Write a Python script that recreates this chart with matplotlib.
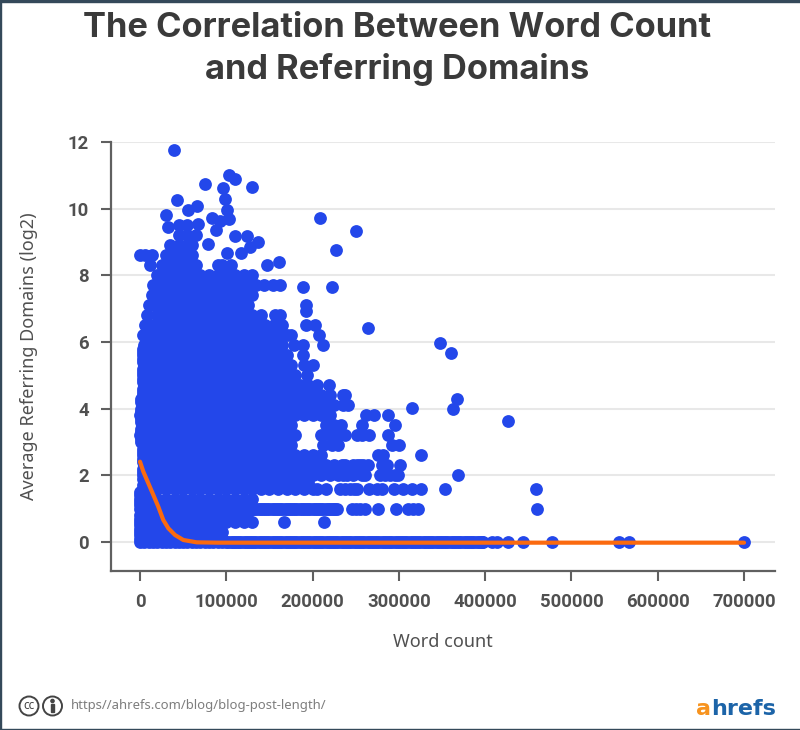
import matplotlib
matplotlib.use("Agg")
import matplotlib.pyplot as plt
from matplotlib.patches import Circle, Rectangle

title_lines = ["The Correlation Between Word Count", "and Referring Domains"]
x_label = "Word count"
y_label = "Average Referring Domains (log2)"
url_text = "https//ahrefs.com/blog/blog-post-length/"
x_ticks = [0, 100000, 200000, 300000, 400000, 500000, 600000, 700000]
y_ticks = [0, 2, 4, 6, 8, 10, 12]

# trend line, word count / log2 domains
trend_x = [0, 3900, 9700, 15500, 21200, 27000, 32900, 40600, 50200, 65700, 90000, 200000, 400000, 700000]
trend_y = [2.41, 2.11, 1.76, 1.41, 1.06, 0.66, 0.41, 0.21, 0.06, -0.01, -0.02, -0.02, -0.02, -0.02]

# solid mass of posts, read row by row (word count in thousands per log2 level)
row_levels = [0, 0, 0.3, 0.6, 0.9, 1.0, 1.0, 1.3, 1.6, 1.8, 2.0, 2.3, 2.6, 2.9, 3.2, 3.5, 3.8, 4.1, 4.4, 4.7,
              5.0, 5.3, 5.6, 5.9, 6.2, 6.5, 6.8, 7.1, 7.4, 7.7, 8.0, 8.3, 8.6, 8.9, 9.2, 9.5]
row_words = [
    [0, 5, 10, 15, 20, 25, 30, 35, 40, 45, 50, 55, 60, 65, 70, 75, 80, 85, 90, 95, 100, 105, 110, 115, 120, 125, 130,
     135, 140, 145, 150, 155, 160, 165, 170, 175, 180, 185, 190, 195, 200, 205, 210, 215, 220, 225, 230, 235, 240,
     245, 250, 255, 260, 265, 270, 275, 280, 285, 290, 295, 300, 305, 310, 315, 320, 325, 330, 335, 340, 345, 350,
     355, 360, 365, 370, 375, 380, 385, 390, 395, 398, 407.6, 413.4, 426.8, 443.5, 477.5, 555.5, 566.3, 699.6],
    [102.5, 107.5, 112.5, 117.5, 122.5, 127.5, 132.5, 137.5, 142.5, 147.5, 152.5, 157.5, 162.5, 167.5, 172.5, 177.5,
     182.5, 187.5, 192.5, 197.5, 202.5, 207.5, 212.5, 217.5, 222.5, 227.5, 232.5, 237.5, 242.5, 247.5, 252.5, 257.5,
     262.5, 267.5, 272.5, 277.5, 282.5, 287.5, 292.5, 297.5, 302.5, 307.5, 312.5, 317.5, 322.5, 327.5, 332.5, 337.5,
     342.5, 347.5, 352.5, 357.5, 362.5, 367.5, 372.5, 377.5, 382.5, 387.5, 392.5, 396.5],
    [0, 5, 15, 25, 35, 45, 55, 65, 75, 85, 95],
    [0, 10, 20, 30, 40, 50, 60, 70, 80, 90, 100, 110, 120, 130, 167, 213],
    [5, 15, 25, 35, 45, 55, 65, 75, 85, 95, 105, 115, 125],
    [0, 5, 10, 15, 20, 25, 30, 35, 40, 45, 50, 55, 60, 65, 70, 75, 80, 85, 90, 95, 100, 105, 110, 115, 120, 125, 130,
     135, 140, 145, 150, 155, 160, 165, 170, 175, 180, 185, 190, 195, 200, 205, 210, 215, 220, 225, 228,
     246, 250, 255, 261, 276, 297, 311, 316, 322, 460],
    [132.5, 137.5, 142.5, 147.5, 152.5, 157.5, 162.5, 167.5, 172.5, 177.5, 182.5, 187.5, 192.5, 197.5, 202.5, 207.5,
     212.5, 217.5, 222.5, 226.5],
    [0, 10, 20, 30, 40, 50, 60, 70, 80, 90, 100, 110, 120, 130],
    [3, 10, 20, 30, 40, 50, 60, 70, 80, 90, 100, 110, 120, 130, 140, 150, 160, 170, 180, 190, 200, 205, 215,
     232, 238, 243, 248, 252, 265, 275, 281, 294, 305, 315, 326, 353],
    [5, 15, 25, 35, 45, 55, 65, 75, 85, 95, 105, 115, 125, 135, 145, 155, 165, 175, 185, 195],
    [3, 10, 20, 30, 40, 50, 60, 70, 80, 90, 100, 110, 120, 130, 140, 150, 160, 170, 180, 190, 200, 210, 220, 230,
     235, 240, 247, 257, 261, 278, 284, 290, 295, 299, 368],
    [5, 15, 25, 35, 45, 55, 65, 75, 85, 95, 105, 115, 125, 135, 145, 155, 165, 175, 185, 195, 205, 215, 225,
     234, 238, 247, 251, 255, 258, 264, 280, 286, 301],
    [3, 10, 20, 30, 40, 50, 60, 70, 80, 90, 100, 110, 120, 130, 140, 150, 160, 170, 180, 190, 200, 210, 276, 282, 326],
    [5, 15, 25, 35, 45, 55, 65, 75, 85, 95, 105, 115, 125, 135, 145, 155, 165, 175, 212, 222, 230, 292, 300],
    [0, 10, 20, 30, 40, 50, 60, 70, 80, 90, 100, 110, 120, 130, 140, 150, 160, 170, 180, 210, 220, 230, 238, 251, 257, 265, 287],
    [5, 15, 25, 35, 45, 55, 65, 75, 85, 95, 105, 115, 125, 135, 145, 155, 165, 175, 215, 225, 233, 257, 295],
    [0, 10, 20, 30, 40, 50, 60, 70, 80, 90, 100, 110, 120, 130, 140, 150, 160, 170, 180, 190, 200, 210, 220, 262, 271, 287],
    [5, 15, 25, 35, 45, 55, 65, 75, 85, 95, 105, 115, 125, 135, 145, 155, 165, 175, 185, 195, 205, 215, 225, 235, 241],
    [3, 10, 20, 30, 40, 50, 60, 70, 80, 90, 100, 110, 120, 130, 140, 150, 160, 170, 180, 190, 200, 210, 220, 235, 238],
    [5, 15, 25, 35, 45, 55, 65, 75, 85, 95, 105, 115, 125, 135, 145, 155, 165, 175, 185, 195, 205, 219],
    [3, 10, 20, 30, 40, 50, 60, 70, 80, 90, 100, 110, 120, 130, 140, 150, 160, 170, 180, 193],
    [5, 15, 25, 35, 45, 55, 65, 75, 85, 95, 105, 115, 125, 135, 145, 155, 165, 175, 190, 200],
    [3, 10, 20, 30, 40, 50, 60, 70, 80, 90, 100, 110, 120, 130, 140, 150, 160, 170, 189],
    [5, 15, 25, 35, 45, 55, 65, 75, 85, 95, 105, 115, 125, 135, 145, 155, 165, 178, 189, 212],
    [3, 10, 20, 30, 40, 50, 60, 70, 80, 90, 100, 110, 120, 130, 140, 150, 160, 170, 175, 208],
    [6, 15, 25, 35, 45, 55, 65, 75, 85, 95, 105, 115, 125, 135, 145, 155, 165, 192, 203],
    [8, 20, 30, 40, 50, 60, 70, 80, 90, 100, 110, 120, 130, 140, 157, 162],
    [10, 15, 25, 35, 45, 55, 65, 75, 85, 95, 105, 115, 125, 192],
    [14, 20, 30, 40, 50, 60, 70, 80, 90, 100, 110, 120, 130],
    [15, 25, 35, 45, 55, 65, 75, 85, 95, 105, 115, 125, 135, 144, 154, 162],
    [20, 30, 40, 50, 60, 70, 80, 90, 100, 110, 120, 130],
    [12, 25, 35, 45, 55, 65, 90, 95, 105],
    [0, 6, 14, 30, 40, 50, 60],
    [35, 45, 55, 60],
    [45, 55, 65],
    [45, 55],
]

# posts along the left edge of the mass, short pages
edge_words = [0, 0, 0, 0, 0, 0, 0, 0, 0, 0,
              3, 3, 3, 3, 3, 3, 3, 3,
              1, 1, 1, 1, 1, 1, 1, 1, 1, 1,
              3, 3, 3, 3, 3, 3, 3, 3, 3, 3]
edge_levels = [0.1, 0.2, 0.4, 0.5, 0.7, 0.8, 1.1, 1.2, 1.4, 1.5,
               1.7, 1.9, 2.1, 2.2, 2.4, 2.5, 2.7, 2.8,
               3.0, 3.1, 3.3, 3.4, 3.6, 3.7, 3.9, 4.0, 4.2, 4.3,
               4.5, 4.6, 4.8, 4.9, 5.1, 5.2, 5.4, 5.5, 5.7, 5.8]

# single posts away from the mass, word count in thousands
single_words = [39.4, 103.5, 110, 75.3, 96.5, 129.4, 98.9, 42.9, 65.7, 56, 101.2, 29.8, 83.1, 103.5, 92.7, 209,
                250, 227, 67.6, 87.7, 32.8, 110, 123.7, 137, 127.5, 78.5, 117.4, 100.5, 146.8, 161, 188.5, 222,
                192, 264, 348, 360.4, 367.7, 363, 426.8, 314.9, 459]
single_levels = [11.76, 11.01, 10.89, 10.73, 10.61, 10.66, 10.29, 10.26, 10.08, 9.96, 9.96, 9.8, 9.71, 9.69, 9.64, 9.71,
                 9.33, 8.75, 9.54, 9.36, 9.44, 9.18, 9.18, 9.01, 8.84, 8.93, 8.66, 8.66, 8.31, 8.39, 7.64, 7.64,
                 6.93, 6.43, 5.96, 5.67, 4.28, 3.99, 3.63, 4.01, 1.6]

words = []
levels = []
for level, row in zip(row_levels, row_words):
    for w in row:
        words.append(w * 1000)
        levels.append(level)
for w, level in zip(edge_words + single_words, edge_levels + single_levels):
    words.append(w * 1000)
    levels.append(level)

fig = plt.figure(figsize=(8, 7.3), dpi=100, facecolor="white")
plt.rcParams["font.family"] = ["Noto Sans", "DejaVu Sans"]

ax = fig.add_axes([111 / 800, 1 - 571 / 730, 664 / 800, 429 / 730])
ax.set_xlim(-33600, 735900)
ax.set_ylim(-0.87, 12)
ax.set_axisbelow(True)
ax.grid(axis="y", color="#e8e8e8", linewidth=1.5)

ax.scatter(words, levels, s=85, color="#2347ea", linewidths=0, zorder=3, clip_on=False)
ax.plot(trend_x, trend_y, color="#fb6a0f", linewidth=3, solid_capstyle="round", zorder=4)

for side in ["top", "right"]:
    ax.spines[side].set_visible(False)
for side in ["left", "bottom"]:
    ax.spines[side].set_color("#606060")
    ax.spines[side].set_linewidth(1.6)

ax.set_xticks(x_ticks)
ax.set_xticklabels([str(t) for t in x_ticks])
ax.set_yticks(y_ticks)
ax.tick_params(axis="both", length=7, width=1.5, color="#606060", labelcolor="#505050", labelsize=13.3, pad=9)
for label in ax.get_xticklabels() + ax.get_yticklabels():
    label.set_family(["Roboto", "DejaVu Sans"])
    label.set_fontweight("bold")

# overlay in pixel units for everything outside the plot
over = fig.add_axes([0, 0, 1, 1], zorder=5)
over.set_xlim(0, 800)
over.set_ylim(730, 0)
over.axis("off")

over.text(397, 28, title_lines[0], ha="center", va="center", fontsize=24.8, fontweight="bold", color="#3a3a3a",
          family=["Inter", "DejaVu Sans"])
over.text(397, 70, title_lines[1], ha="center", va="center", fontsize=24.8, fontweight="bold", color="#3a3a3a",
          family=["Inter", "DejaVu Sans"])
over.text(443, 642, x_label, ha="center", va="center", fontsize=13, color="#505050")
over.text(29, 356, y_label, ha="center", va="center", rotation=90, fontsize=13, color="#505050")

# footer
for cx in [29, 52.5]:
    over.add_patch(Circle((cx, 706), 9.5, fill=False, edgecolor="#444444", linewidth=1.4))
over.text(29, 705.5, "cc", ha="center", va="center", fontsize=8.5, fontweight="bold", color="#444444")
over.add_patch(Circle((52.5, 701), 1.6, color="#444444"))
over.add_patch(Rectangle((50.7, 703.5), 3.6, 8, color="#444444"))
over.text(71, 706, url_text, ha="left", va="center", fontsize=9.4, color="#7d7d7d")
over.text(696, 715, "a", ha="left", va="baseline", fontsize=16, fontweight="bold", color="#f7931e",
          family=["DejaVu Sans"])
over.text(711, 715, "hrefs", ha="left", va="baseline", fontsize=16, fontweight="bold", color="#1c64a8",
          family=["DejaVu Sans"])

# thin dark frame of the picture
over.add_patch(Rectangle((0, 0), 800, 1.5, color="#34495a"))
over.add_patch(Rectangle((0, 728.5), 800, 1.5, color="#34495a"))
over.add_patch(Rectangle((0, 0), 1.2, 730, color="#34495a"))

fig.savefig("out.png", dpi=100)
